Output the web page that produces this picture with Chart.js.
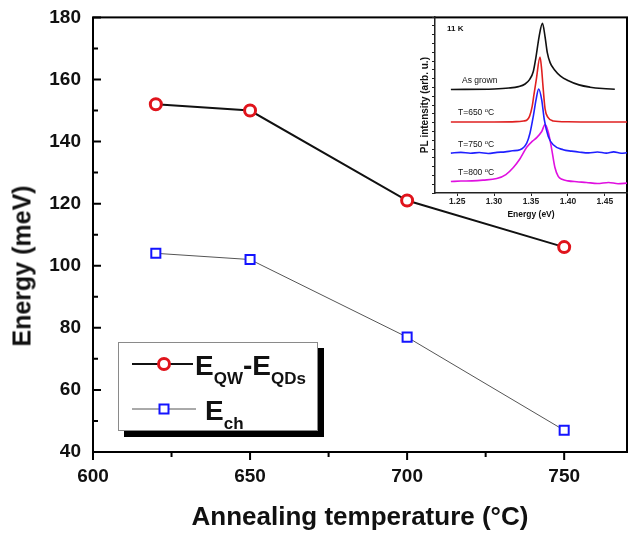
<!DOCTYPE html>
<html>
<head>
<meta charset="utf-8">
<script src="https://cdn.jsdelivr.net/npm/chart.js@4.4.1/dist/chart.umd.min.js"></script>
<style>
  html, body { margin: 0; padding: 0; background: #fff; }
  #wrap { position: relative; width: 630px; height: 535px; background: #fff; overflow: hidden;
          font-family: "Liberation Sans", Arial, sans-serif; color: #111; }
  canvas { position: absolute; }
  #main { left: 0; top: 0; }
  #inset { left: 410px; top: 10px; }
  .lbl { position: absolute; white-space: nowrap; line-height: 1; }
  #ytitle { position: absolute; left: 22px; top: 266px; transform: translate(-50%, -50%) rotate(-90deg);
            font-weight: bold; font-size: 25px; white-space: nowrap; }
  #legend { position: absolute; left: 118px; top: 342px; width: 198px; height: 87px; background: #fff;
            border: 1px solid #8a8a8a; box-shadow: 6px 6px 0 #000; }
  #legend .row { position: absolute; left: 0; height: 40px; }
  #legend svg { position: absolute; left: 0; top: 0; }
  #legend .txt { position: absolute; font-weight: bold; font-size: 28px; line-height: 1; white-space: nowrap; }
  #legend sub { font-size: 17px; vertical-align: -9px; line-height: 0; }
  .ins { font-size: 8.5px; }
  .ins sup { font-size: 6px; vertical-align: 3px; line-height: 0; }
</style>
</head>
<body>
<div id="wrap">
  <canvas id="main" width="630" height="535"></canvas>
  <canvas id="inset" width="219" height="212"></canvas>
  <div id="ytitle">Energy (meV)</div>
  <div id="legend">
    <div class="row" style="top:1px;width:198px;">
      <svg width="80" height="40"><line x1="13" y1="20" x2="74" y2="20" stroke="#111" stroke-width="2"/><circle cx="45" cy="20" r="5.5" fill="#fff" stroke="#e0141c" stroke-width="3"/></svg>
      <div class="txt" style="left:76px;top:8px;">E<sub>QW</sub>-E<sub>QDs</sub></div>
    </div>
    <div class="row" style="top:46px;width:198px;">
      <svg width="80" height="40"><line x1="13" y1="20" x2="77" y2="20" stroke="#555" stroke-width="1"/><rect x="40.5" y="15.5" width="9" height="9" fill="#fff" stroke="#1414ff" stroke-width="2"/></svg>
      <div class="txt" style="left:86px;top:8px;">E<sub>ch</sub></div>
    </div>
  </div>
  <div class="lbl ins" style="left:447px;top:25px;font-weight:bold;font-size:8px;">11 K</div>
  <div class="lbl ins" style="left:462px;top:76px;">As grown</div>
  <div class="lbl ins" style="left:458px;top:108px;">T=650 <sup>o</sup>C</div>
  <div class="lbl ins" style="left:458px;top:140px;">T=750 <sup>o</sup>C</div>
  <div class="lbl ins" style="left:458px;top:168px;">T=800 <sup>o</sup>C</div>
</div>
<script>
// ---------- main chart data ----------
const temps = [620, 650, 700, 750];
const eqwEqds = [152, 150, 121, 106];
const ech = [104, 102, 77, 47];
const xTickValues = [600, 650, 700, 750];
const yTickValues = [40, 60, 80, 100, 120, 140, 160, 180];

// ---------- inset PL spectra ----------
const asGrownE = [1.2415, 1.300, 1.320, 1.333, 1.342, 1.348, 1.353, 1.357, 1.361, 1.3655, 1.369, 1.372, 1.376, 1.382, 1.390, 1.400, 1.415, 1.430, 1.447, 1.4635];
const asGrownI = [58.9, 59.2, 59.7, 60.5, 62.0, 64.5, 69.0, 78.0, 89.0, 96.5, 89.0, 80.0, 74.0, 70.0, 66.5, 64.0, 61.5, 60.2, 59.4, 59.0];
const t650E = [1.2415, 1.300, 1.330, 1.340, 1.3442, 1.348, 1.3516, 1.354, 1.357, 1.3622, 1.3645, 1.366, 1.369, 1.373, 1.380, 1.400, 1.440, 1.480];
const t650I = [40.4, 40.4, 40.6, 41.0, 41.4, 43.6, 49.3, 56.0, 64.0, 77.3, 70.0, 62.0, 48.0, 43.0, 41.0, 40.5, 40.4, 40.4];
const t750E = [1.2415, 1.255, 1.268, 1.280, 1.292, 1.304, 1.315, 1.325, 1.3351, 1.3442, 1.3486, 1.3531, 1.3568, 1.3604, 1.3645, 1.368, 1.3734, 1.3801, 1.3936, 1.405, 1.4162, 1.428, 1.440, 1.452, 1.462, 1.472, 1.480];
const t750I = [22.7, 23.1, 22.6, 23.0, 22.5, 23.1, 23.4, 24.0, 24.6, 28.4, 34.0, 43.6, 53.0, 59.2, 53.0, 41.7, 32.2, 27.4, 24.6, 23.8, 23.2, 22.8, 23.3, 22.7, 23.4, 22.6, 22.9];
const t800E = [1.2415, 1.255, 1.270, 1.285, 1.3036, 1.316, 1.3261, 1.3351, 1.3442, 1.352, 1.3577, 1.3645, 1.369, 1.3735, 1.378, 1.3824, 1.3869, 1.392, 1.400, 1.412, 1.425, 1.440, 1.455, 1.468, 1.480];
const t800I = [6.5, 6.8, 6.9, 7.3, 8.2, 10.5, 14.5, 19.5, 26.0, 29.5, 31.5, 35.0, 38.9, 34.5, 25.0, 14.5, 9.5, 7.8, 6.9, 6.4, 6.0, 5.4, 6.0, 5.3, 5.6];
const insetXTickValues = [1.25, 1.30, 1.35, 1.40, 1.45];
const insetYTickValues = [0, 5, 10, 15, 20, 25, 30, 35, 40, 45, 50, 55, 60, 65, 70, 75, 80, 85, 90, 95, 100];

const FONT = '"Liberation Sans", Arial, sans-serif';
const pts = (xs, ys) => xs.map((v, i) => ({ x: v, y: ys[i] }));
const PLOT_TOP = 17;      // wanted top of the main plot frame (page px)
const PLOT_BOTTOM = 452;  // wanted bottom of the main plot frame (page px)

// frame + inward/outward ticks for the main plot
const framePlugin = {
  id: 'frame',
  afterDraw(chart) {
    const { ctx, chartArea: { left, right, top, bottom }, scales: { x, y } } = chart;
    ctx.save();
    ctx.strokeStyle = '#000';
    ctx.lineWidth = 2;
    ctx.strokeRect(left, top, right - left, bottom - top);
    ctx.beginPath();
    for (let i = 0; i < yTickValues.length; i++) {
      const py = y.getPixelForValue(yTickValues[i]);
      ctx.moveTo(left, py); ctx.lineTo(left + 8, py);
      if (i < yTickValues.length - 1) {
        const pm = y.getPixelForValue((yTickValues[i] + yTickValues[i + 1]) / 2);
        ctx.moveTo(left, pm); ctx.lineTo(left + 5, pm);
      }
    }
    for (let i = 0; i < xTickValues.length; i++) {
      const px = x.getPixelForValue(xTickValues[i]);
      ctx.moveTo(px, bottom); ctx.lineTo(px, bottom + 8);
      const mid = xTickValues[i] + 25;
      if (mid < x.max) {
        const pm = x.getPixelForValue(mid);
        ctx.moveTo(pm, bottom); ctx.lineTo(pm, bottom + 5);
      }
    }
    ctx.stroke();
    ctx.restore();
  }
};

function mainConfig(xAxisHeight) {
  return {
    type: 'line',
    data: {
      datasets: [
        {
          label: 'E_ch',
          data: pts(temps, ech),
          borderColor: '#555',
          borderWidth: 1,
          pointStyle: 'rect',
          pointRadius: 6.4,
          pointBorderWidth: 2,
          pointBorderColor: '#1414ff',
          pointBackgroundColor: '#fff',
          tension: 0
        },
        {
          label: 'E_QW-E_QDs',
          data: pts(temps, eqwEqds),
          borderColor: '#111',
          borderWidth: 2,
          pointStyle: 'circle',
          pointRadius: 5.5,
          pointBorderWidth: 3,
          pointBorderColor: '#e0141c',
          pointBackgroundColor: '#fff',
          tension: 0
        }
      ]
    },
    options: {
      responsive: false,
      maintainAspectRatio: false,
      animation: false,
      devicePixelRatio: 1,
      layout: { autoPadding: false, padding: { top: PLOT_TOP, right: 3, left: 0, bottom: 0 } },
      plugins: { legend: { display: false }, tooltip: { enabled: false } },
      scales: {
        x: {
          type: 'linear', min: 600, max: 770,
          afterBuildTicks: s => { s.ticks = xTickValues.map(v => ({ value: v })); },
          afterFit: s => { s.height = xAxisHeight; },
          grid: { display: false, drawTicks: false },
          border: { display: false },
          ticks: { autoSkip: false, maxRotation: 0, padding: 13, color: '#111', font: { family: FONT, size: 19, weight: 'bold' } },
          title: { display: true, text: 'Annealing temperature (°C)', color: '#111', padding: { top: 0, bottom: 2 }, font: { family: FONT, size: 26, weight: 'bold' } }
        },
        y: {
          min: 40, max: 180,
          afterBuildTicks: s => { s.ticks = yTickValues.map(v => ({ value: v })); },
          afterFit: s => { s.width = 93; },
          grid: { display: false, drawTicks: false },
          border: { display: false },
          ticks: { autoSkip: false, padding: 12, color: '#111', font: { family: FONT, size: 19, weight: 'bold' } }
        }
      }
    },
    plugins: [framePlugin]
  };
}

const mainCanvas = document.getElementById('main');
let mainChart = new Chart(mainCanvas, mainConfig(535 - PLOT_BOTTOM));
const dTop = Math.round(mainChart.chartArea.top - PLOT_TOP);
if (dTop !== 0) {
  // the library keeps some extra room above the plot; shift the canvas so the frame sits where wanted
  mainChart.destroy();
  mainCanvas.width = 630;
  mainCanvas.height = 535 + dTop;
  mainCanvas.style.top = (-dTop) + 'px';
  mainCanvas.style.height = (535 + dTop) + 'px';
  mainCanvas.style.width = '630px';
  mainChart = new Chart(mainCanvas, mainConfig(535 - PLOT_BOTTOM));
}

const spec = (label, xs, ys, color) => ({
  label, data: pts(xs, ys), borderColor: color, borderWidth: 1.6, pointRadius: 0,
  cubicInterpolationMode: 'monotone', fill: false
});

new Chart(document.getElementById('inset'), {
  type: 'line',
  data: {
    datasets: [
      spec('As grown', asGrownE, asGrownI, '#111'),
      spec('T=650 °C', t650E, t650I, '#e02020'),
      spec('T=750 °C', t750E, t750I, '#2020ff'),
      spec('T=800 °C', t800E, t800I, '#e010e0')
    ]
  },
  options: {
    responsive: false,
    animation: false,
    devicePixelRatio: 1,
    layout: { autoPadding: false, padding: { top: 7, right: 2, left: 0, bottom: 0 } },
    plugins: { legend: { display: false }, tooltip: { enabled: false } },
    scales: {
      x: {
        type: 'linear', min: 1.22, max: 1.48,
        afterBuildTicks: s => { s.ticks = insetXTickValues.map(v => ({ value: v })); },
        afterFit: s => { s.height = 29; },
        grid: { drawOnChartArea: false, tickLength: 3, color: '#222', lineWidth: 1 },
        border: { color: '#222', width: 1.5 },
        ticks: { autoSkip: false, maxRotation: 0, padding: 1, color: '#222', font: { family: FONT, size: 8.5, weight: 'bold' }, callback: v => v.toFixed(2) },
        title: { display: true, text: 'Energy (eV)', color: '#111', padding: { top: 0, bottom: 2 }, font: { family: FONT, size: 8.5, weight: 'bold' } }
      },
      y: {
        min: 0, max: 100,
        afterBuildTicks: s => { s.ticks = insetYTickValues.map(v => ({ value: v })); },
        afterFit: s => { s.width = 25; },
        grid: { drawOnChartArea: false, tickLength: 3, color: '#222', lineWidth: 1 },
        border: { color: '#222', width: 1.5 },
        ticks: { autoSkip: false, padding: 0, callback: () => '' },
        title: { display: true, text: 'PL intensity (arb. u.)', color: '#111', padding: { top: 9, bottom: 0 }, font: { family: FONT, size: 10, weight: 'bold' } }
      }
    }
  }
});
</script>
</body>
</html>
